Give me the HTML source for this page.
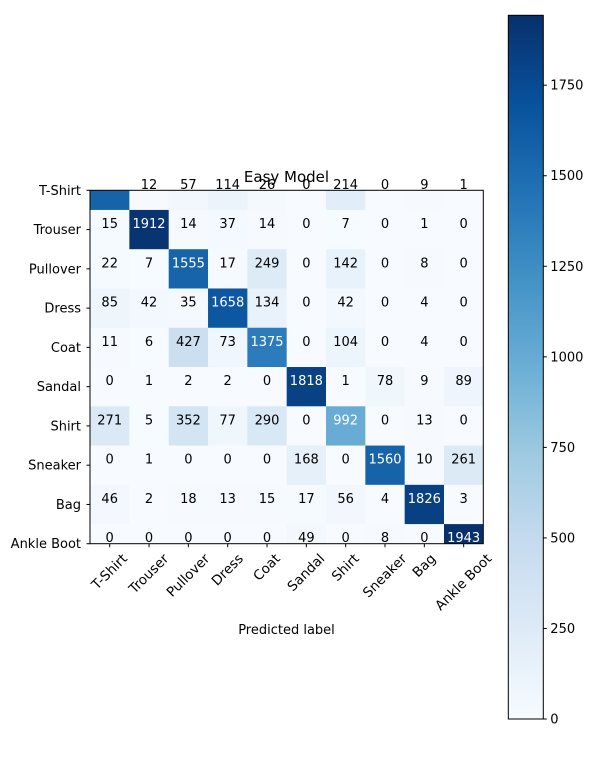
<!DOCTYPE html>
<html><head><meta charset="utf-8"><style>
html,body{margin:0;padding:0;background:#fff;}
svg{display:block;font-family:"DejaVu Sans","Liberation Sans",sans-serif;}
</style></head><body>
<svg id="c" width="589" height="784" viewBox="0 0 589 784">
<defs>
<linearGradient id="cbg" x1="0" y1="1" x2="0" y2="0">
<stop offset="0" stop-color="#f7fbff"/><stop offset="0.125" stop-color="#deebf7"/><stop offset="0.25" stop-color="#c6dbef"/><stop offset="0.375" stop-color="#9ecae1"/><stop offset="0.5" stop-color="#6baed6"/><stop offset="0.625" stop-color="#4292c6"/><stop offset="0.75" stop-color="#2171b5"/><stop offset="0.875" stop-color="#08519c"/><stop offset="1" stop-color="#08306b"/>
</linearGradient>
<clipPath id="axclip"><rect x="90" y="190.3" width="393.3" height="353.4"/></clipPath>
</defs>
</svg>
<script>
const labels = ["T-Shirt","Trouser","Pullover","Dress","Coat","Sandal","Shirt","Sneaker","Bag","Ankle Boot"];
const matrix = [
[1567,12,57,114,26,0,214,0,9,1],
[15,1912,14,37,14,0,7,0,1,0],
[22,7,1555,17,249,0,142,0,8,0],
[85,42,35,1658,134,0,42,0,4,0],
[11,6,427,73,1375,0,104,0,4,0],
[0,1,2,2,0,1818,1,78,9,89],
[271,5,352,77,290,0,992,0,13,0],
[0,1,0,0,0,168,0,1560,10,261],
[46,2,18,13,15,17,56,4,1826,3],
[0,0,0,0,0,49,0,8,0,1943]
];
const cbTicks = [0,250,500,750,1000,1250,1500,1750];
const titleText = "Easy Model";
const xTitle = "Predicted label";

const svg = document.getElementById('c');
const NS = "http://www.w3.org/2000/svg";
const vmax = Math.max(...matrix.flat()), vmin = 0;
const x0 = 109.7, dx = 39.33, y0 = 190.3, dy = 39.27;
const xc = i => x0 + i*dx, yc = j => y0 + j*dy;
const cbTop = 15.3, cbBot = 719, cbL = 508.3, cbR = 543.3;
const cbY = v => cbBot - (v - vmin)/(vmax - vmin)*(cbBot - cbTop);
const stops = ["#f7fbff","#deebf7","#c6dbef","#9ecae1","#6baed6","#4292c6","#2171b5","#08519c","#08306b"].map(h=>[1,3,5].map(k=>parseInt(h.substr(k,2),16)));
function color(v){
  let t = Math.max(0,Math.min(1,(v-vmin)/(vmax-vmin)))*8;
  let i = Math.min(7,Math.floor(t)), f = t-i;
  const c = stops[i].map((a,k)=>Math.round(a+(stops[i+1][k]-a)*f));
  return `rgb(${c[0]},${c[1]},${c[2]})`;
}
function mk(tag, attrs, parent){
  const e = document.createElementNS(NS, tag);
  for (const k in attrs) e.setAttribute(k, attrs[k]);
  (parent||svg).appendChild(e);
  return e;
}
const g = mk('g', {'clip-path':'url(#axclip)'});


matrix.forEach((row,j)=>row.forEach((v,i)=>{
  const r = mk('rect', {x:xc(i)-dx/2, y:yc(j)-dy/2, width:dx+0.3, height:dy+0.3, fill:color(v)}, g);
  
  
}));
const frame = mk('rect', {x:90, y:190.3, width:393.3, height:353.4, fill:'none', stroke:'#000', 'stroke-width':1});


const thresh = vmax/2;
matrix.forEach((row,j)=>row.forEach((v,i)=>{
  const t = mk('text', {x:xc(i), y:yc(j)-1.5, 'text-anchor':'middle', 'font-size':13, fill: v>thresh?'#fff':'#000'});
  t.textContent = v;
  
  
}));
labels.forEach((lab,j)=>{
  mk('line',{x1:86.5,x2:90,y1:yc(j),y2:yc(j),stroke:'#000'});
  const t = mk('text',{x:81, y:yc(j)+4.5, 'text-anchor':'end','font-size':13});
  t.textContent = lab;
  
  
});
labels.forEach((lab,i)=>{
  mk('line',{x1:xc(i),x2:xc(i),y1:543.7,y2:547.2,stroke:'#000'});
  const t = mk('text',{'text-anchor':'middle','font-size':13.5,'dominant-baseline':'central'});
  t.textContent = lab;
  
  
  const w = t.getComputedTextLength(), h = 13;
  const cy = 552 + (w+h)*0.3536;
  t.setAttribute('transform', `translate(${xc(i)},${cy}) rotate(-45)`);
});
const tt = mk('text',{x:286.5,y:182,'text-anchor':'middle','font-size':15});
tt.textContent = titleText;


const xt = mk('text',{x:286.5,y:634,'text-anchor':'middle','font-size':13});
xt.textContent = xTitle;


const cb = mk('rect',{x:cbL,y:cbTop,width:cbR-cbL,height:cbBot-cbTop,fill:'url(#cbg)',stroke:'#000','stroke-width':1});


cbTicks.forEach(v=>{
  mk('line',{x1:cbR,x2:cbR+3.5,y1:cbY(v),y2:cbY(v),stroke:'#000'});
  const t = mk('text',{x:cbR+7,y:cbY(v)+4.5,'font-size':13});
  t.textContent = v;
  
  
});
</script>
</body></html>
